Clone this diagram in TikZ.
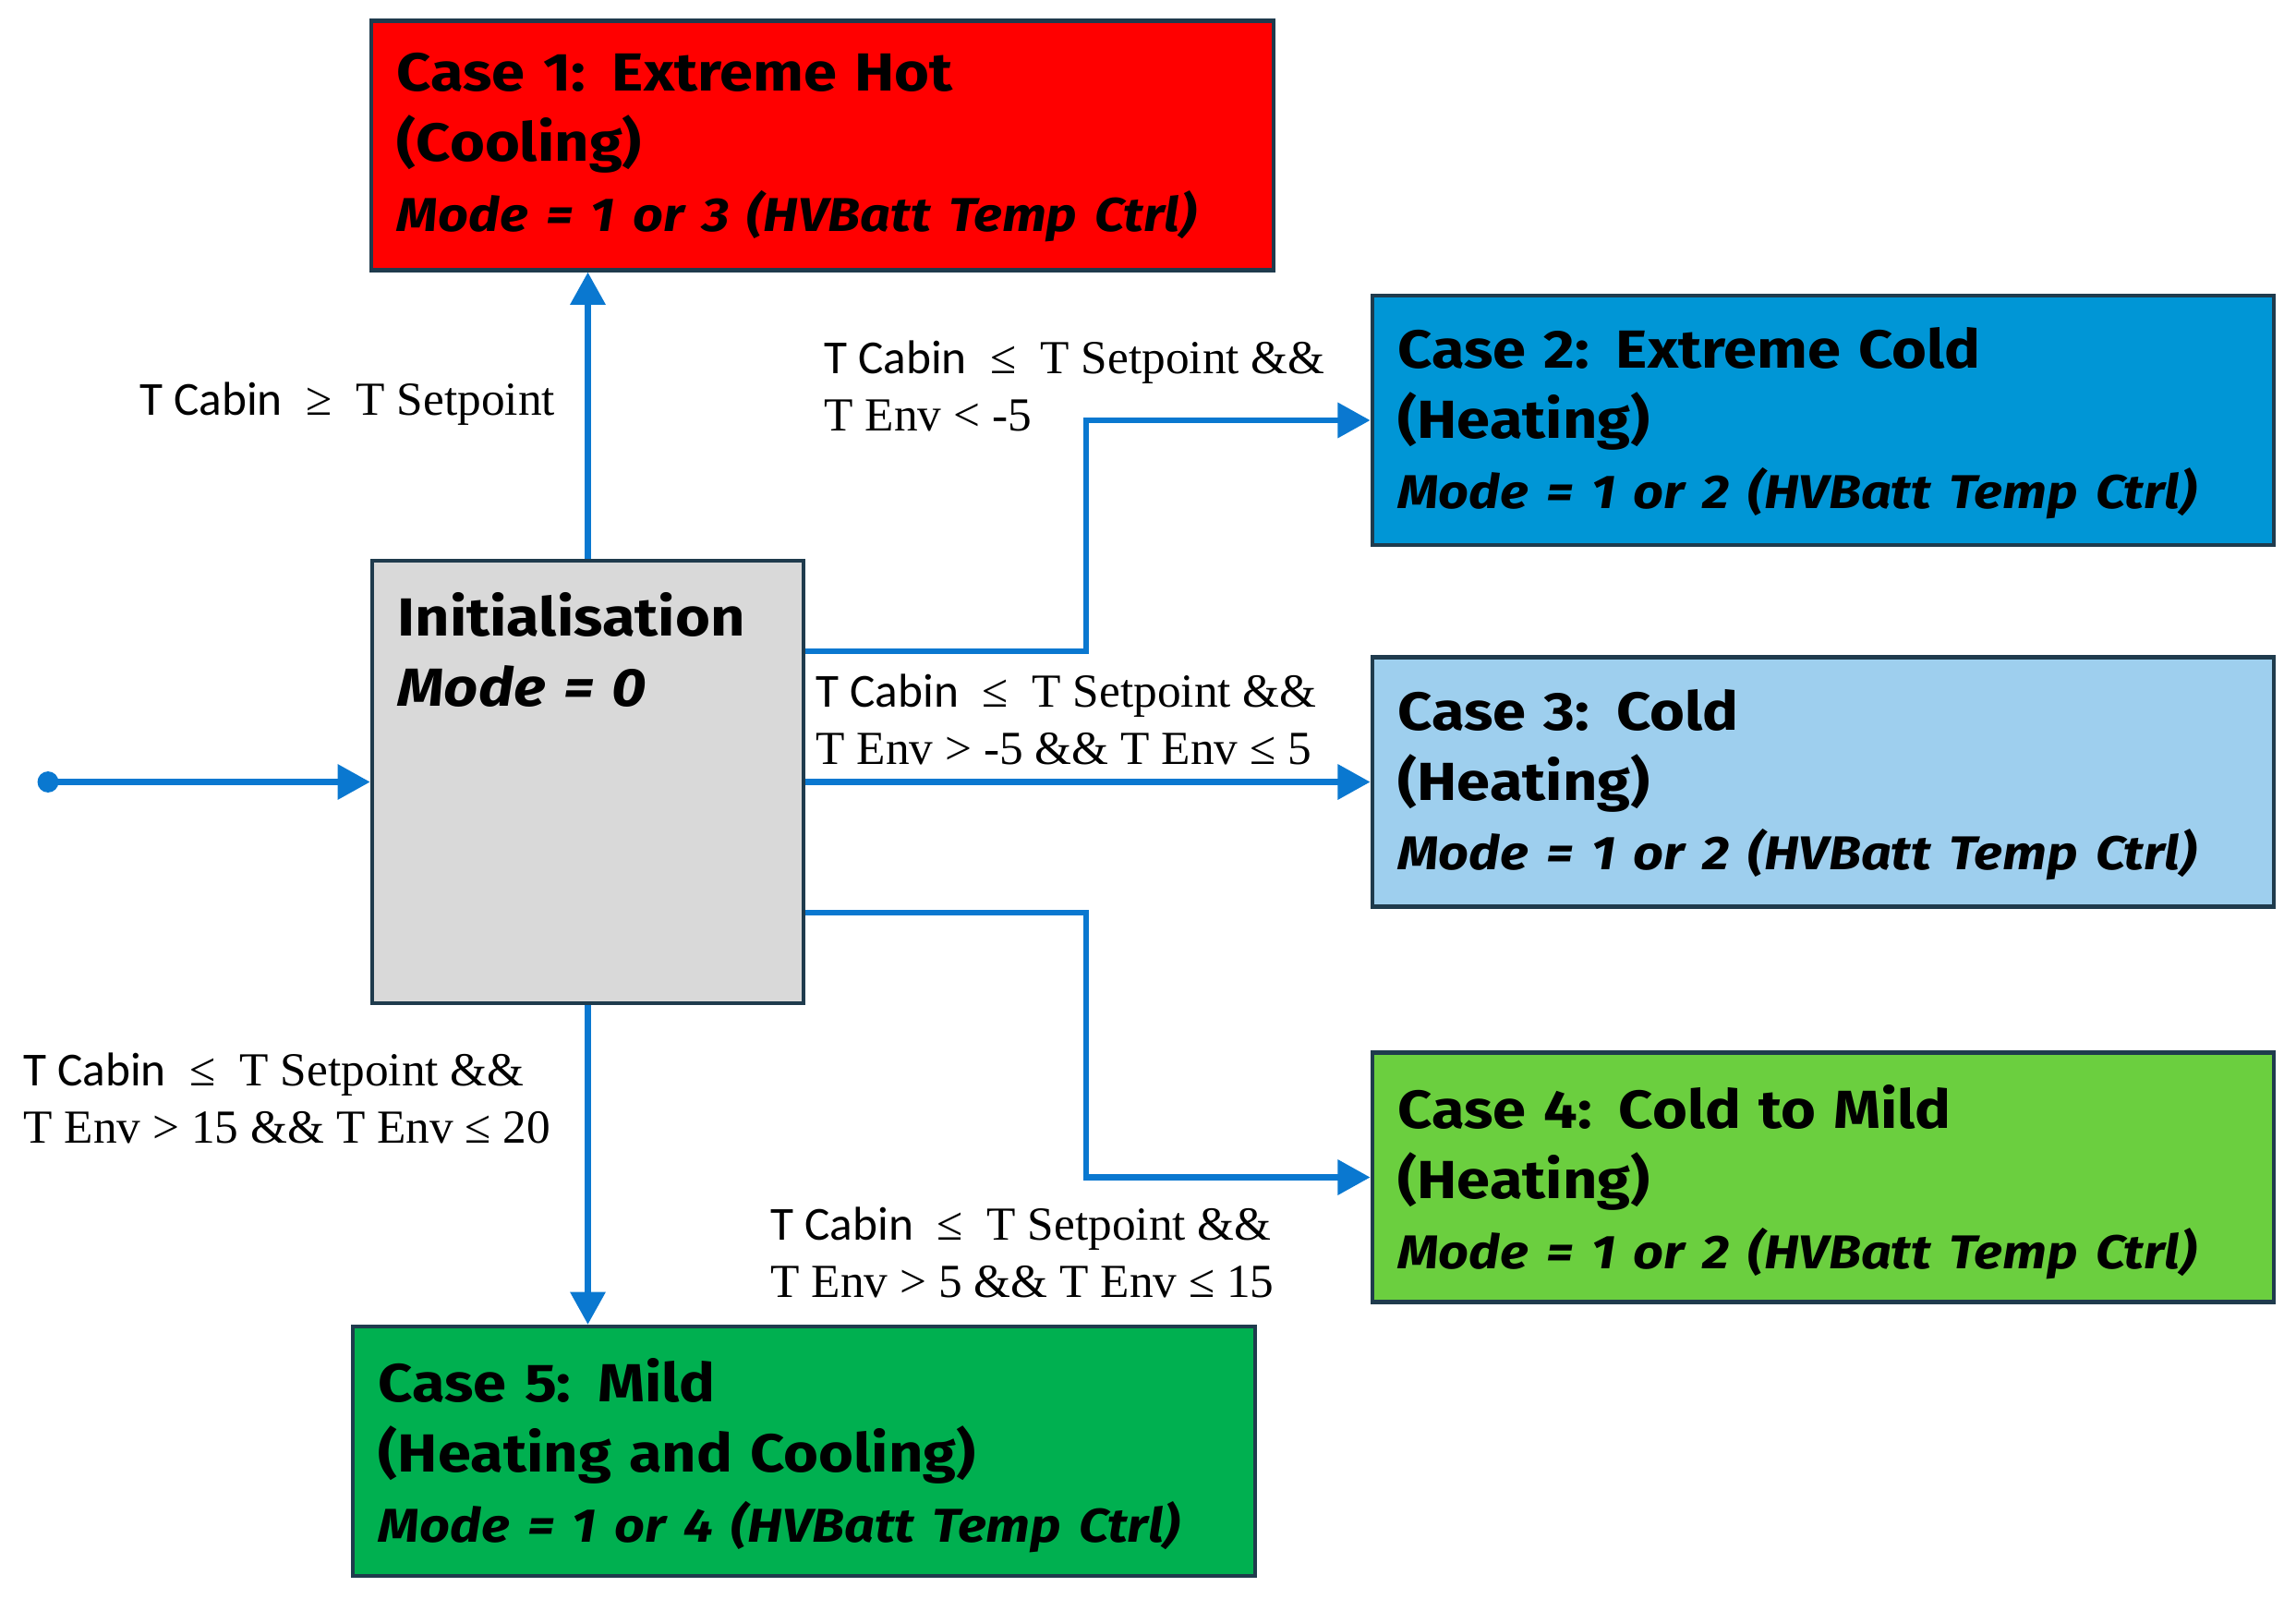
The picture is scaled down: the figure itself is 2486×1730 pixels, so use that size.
\documentclass[tikz,border=0pt]{standalone}
\usepackage{fontspec}
\setmainfont{Liberation Serif}
\newfontfamily\boxfont[FakeStretch=1.12,WordSpace=0.6]{Fira Sans}
\newfontfamily\cabfont{Carlito}
\usetikzlibrary{arrows.meta}
\definecolor{bordercol}{HTML}{1F3B4D}
\definecolor{arrowcol}{HTML}{0A78D0}
\definecolor{hotcol}{HTML}{FF0000}
\definecolor{xcoldcol}{HTML}{0096D6}
\definecolor{coldcol}{HTML}{9ECFEE}
\definecolor{c2mcol}{HTML}{6BCF3F}
\definecolor{mildcol}{HTML}{00B050}
\definecolor{initcol}{HTML}{D9D9D9}
\newcommand{\tcab}{{\cabfont T Cabin}}
\begin{document}
\begin{tikzpicture}[x=0.01cm,y=-0.01cm,
  casebox/.style={draw=bordercol, line width=1.2pt, minimum width=9.76cm, minimum height=2.7cm, inner sep=0pt},
  initbox/.style={draw=bordercol, line width=1.2pt, fill=initcol, minimum width=4.67cm, minimum height=4.79cm, inner sep=0pt},
  boxtext/.style={anchor=north west, inner sep=0pt, text width=9.3cm, align=left,
    font=\boxfont\bfseries\fontsize{16.5}{21.6}\selectfont},
  condtext/.style={anchor=north west, inner sep=0pt, align=left,
    font=\fontsize{14.6}{17.6}\selectfont},
  arr/.style={draw=arrowcol, line width=1.9pt, -{Triangle[length=10pt,width=10.5pt]}}
]
\path[use as bounding box] (0,0) rectangle (2486,1730);

% boxes
\node[casebox, fill=hotcol]   (c1) at (890.5,157.5) {};
\node[casebox, fill=xcoldcol] (c2) at (1974,455) {};
\node[casebox, fill=coldcol]  (c3) at (1974,846.5) {};
\node[casebox, fill=c2mcol]   (c4) at (1974,1274.5) {};
\node[casebox, fill=mildcol]  (c5) at (870.5,1571) {};
\node[initbox] (init) at (636.5,846.5) {};

% box texts
\node[boxtext] (t1) at ([shift={(29,36)}]c1.north west)
  {Case 1: Extreme Hot\\(Cooling)\\{\itshape\fontsize{14.6}{21.6}\selectfont Mode = 1 or 3 (HVBatt Temp Ctrl)}};
\node[boxtext] (t2) at ([shift={(29,36)}]c2.north west)
  {Case 2: Extreme Cold\\(Heating)\\{\itshape\fontsize{14.6}{21.6}\selectfont Mode = 1 or 2 (HVBatt Temp Ctrl)}};
\node[boxtext] (t3) at ([shift={(29,36)}]c3.north west)
  {Case 3: Cold\\(Heating)\\{\itshape\fontsize{14.6}{21.6}\selectfont Mode = 1 or 2 (HVBatt Temp Ctrl)}};
\node[boxtext] (t4) at ([shift={(29,36)}]c4.north west)
  {Case 4: Cold to Mild\\(Heating)\\{\itshape\fontsize{14.6}{21.6}\selectfont Mode = 1 or 2 (HVBatt Temp Ctrl)}};
\node[boxtext] (t5) at ([shift={(29,36)}]c5.north west)
  {Case 5: Mild\\(Heating and Cooling)\\{\itshape\fontsize{14.6}{21.6}\selectfont Mode = 1 or 4 (HVBatt Temp Ctrl)}};
\node[boxtext, text width=4.2cm] (ti) at ([shift={(29,36)}]init.north west)
  {Initialisation\\{\itshape Mode = 0}};

% entry
\node[circle, fill=arrowcol, inner sep=0pt, minimum size=6.5pt] (entry) at (52,846.5) {};
\coordinate (b2) at (1176,705);
\coordinate (b4) at (1176,988);

% connectors
\draw[arr] (entry.center) -- (init.west);
\draw[arr] (init.north) -- (init.north |- c1.south);
\draw[arr] (init.south) -- (init.south |- c5.north);
\draw[arr] (init.east) -- (c3.west);
\draw[arr] (b2 -| init.east) -- (b2) -- (b2 |- c2.west) -- (c2.west);
\draw[arr] (b4 -| init.east) -- (b4) -- (b4 |- c4.west) -- (c4.west);

% conditions
\node[condtext] (l1) at (151,413) {\tcab{}\ \ ≥\ \ T Setpoint};
\node[condtext] (l2) at (892,368) {\tcab{}\ \ ≤\ \ T Setpoint \&\&\\T Env < -5};
\node[condtext] (l3) at (883,729) {\tcab{}\ \ ≤\ \ T Setpoint \&\&\\T Env > -5 \&\& T Env ≤ 5};
\node[condtext] (l4) at (834,1306) {\tcab{}\ \ ≤\ \ T Setpoint \&\&\\T Env > 5 \&\& T Env ≤ 15};
\node[condtext] (l5) at (25,1139) {\tcab{}\ \ ≤\ \ T Setpoint \&\&\\T Env > 15 \&\& T Env ≤ 20};
\end{tikzpicture}
\end{document}
